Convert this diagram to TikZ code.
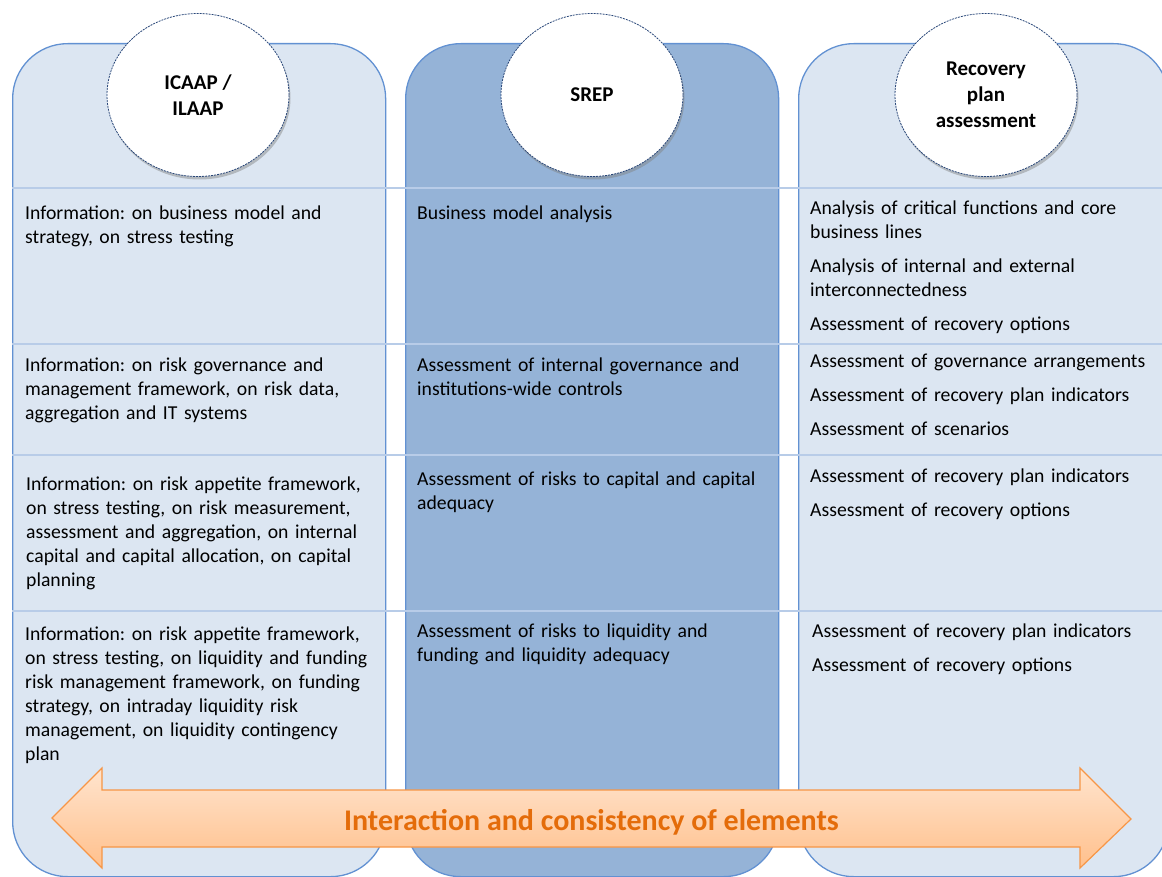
\documentclass[tikz,border=0pt]{standalone}
\usepackage{fontspec}
\setmainfont{Carlito}
\frenchspacing
\usetikzlibrary{shapes.geometric,shadows,positioning}
\definecolor{paneLight}{RGB}{220,230,242}
\definecolor{paneDark}{RGB}{149,179,215}
\definecolor{paneEdge}{RGB}{98,145,210}
\definecolor{rowBlue}{RGB}{184,204,232}
\definecolor{headEdge}{RGB}{40,70,120}
\definecolor{arrowTop}{RGB}{255,228,206}
\definecolor{arrowBottom}{RGB}{255,192,140}
\definecolor{arrowEdge}{RGB}{247,150,70}
\definecolor{arrowText}{RGB}{228,108,10}

\begin{document}
\begin{tikzpicture}[x=1pt, y=-1pt,
  col/.style={draw=paneEdge, line width=1.3pt, rounded corners=55pt, anchor=north west,
    minimum width=373pt, minimum height=833pt, inner sep=0pt},
  head/.style={ellipse, draw=headEdge, dash pattern=on 2pt off 1pt, line width=0.8pt, fill=white,
    minimum width=182pt, minimum height=163pt, inner sep=0pt, align=center,
    font=\fontsize{21}{26}\selectfont\bfseries,
    drop shadow={shadow xshift=1.5pt, shadow yshift=-3pt, opacity=0.45}},
  cell/.style={anchor=base west, inner sep=0pt, text width=370pt, align=left,
    font=\fontsize{19.7}{24}\selectfont},
  rowline/.style={draw=rowBlue, line width=1.2pt}]
  \useasboundingbox (0,0) rectangle (1162,877);

  \node (colL) [col, fill=paneLight] at (12,43) {};
  \node (colM) [col, fill=paneDark] at (405,43) {};
  \node (colR) [col, fill=paneLight, minimum width=370pt] at (798,43) {};

  \draw[rowline] (12,188) -- (1162,188);
  \draw[rowline] (12,344) -- (1162,344);
  \draw[rowline] (12,455) -- (1162,455);
  \draw[rowline] (12,611) -- (1162,611);

  \node (icaap) [head] at (198,95) {ICAAP /\\ILAAP};
  \node (srep) [head] at (592,95) {SREP};
  \node (recov) [head] at (986,95) {Recovery\\plan\\assessment};

  \node (infoA) [cell] at (25,220) {Information: on business model and\\strategy, on stress testing};
  \node (infoB) [cell] at (25,371) {Information: on risk governance and\\management framework, on risk data,\\aggregation and IT systems};
  \node (infoC) [cell] at (26,490) {Information: on risk appetite framework,\\on stress testing, on risk measurement,\\assessment and aggregation, on internal\\capital and capital allocation, on capital\\planning};
  \node (infoD) [cell] at (25,640) {Information: on risk appetite framework,\\on stress testing, on liquidity and funding\\risk management framework, on funding\\strategy, on intraday liquidity risk\\management, on liquidity contingency\\plan};

  \node (srepA) [cell] at (417,220) {Business model analysis};
  \node (srepB) [cell] at (417,371) {Assessment of internal governance and\\institutions-wide controls};
  \node (srepC) [cell] at (417,485) {Assessment of risks to capital and capital\\adequacy};
  \node (srepD) [cell] at (417,637) {Assessment of risks to liquidity and\\funding and liquidity adequacy};

  \node (recA) [cell] at (810,215) {Analysis of critical functions and core\\business lines\\[10pt]Analysis of internal and external\\interconnectedness\\[10pt]Assessment of recovery options};
  \node (recB) [cell] at (810,367) {Assessment of governance arrangements\\[10pt]Assessment of recovery plan indicators\\[10pt]Assessment of scenarios};
  \node (recC) [cell] at (810,482) {Assessment of recovery plan indicators\\[10pt]Assessment of recovery options};
  \node (recD) [cell] at (812,637) {Assessment of recovery plan indicators\\[10pt]Assessment of recovery options};

  \path[draw=arrowEdge, line width=1.2pt, line join=miter, top color=arrowTop, bottom color=arrowBottom]
    (52,818) -- (102,768) -- (102,790) -- (1080,790) -- (1080,768) -- (1131,819)
    -- (1080,868) -- (1080,847) -- (102,847) -- (102,868) -- cycle;
  \node (interact) [anchor=base, inner sep=0pt, text=arrowText, font=\fontsize{30}{36}\selectfont\bfseries]
    at (591.5,830) {Interaction and consistency of elements};
\end{tikzpicture}
\end{document}
